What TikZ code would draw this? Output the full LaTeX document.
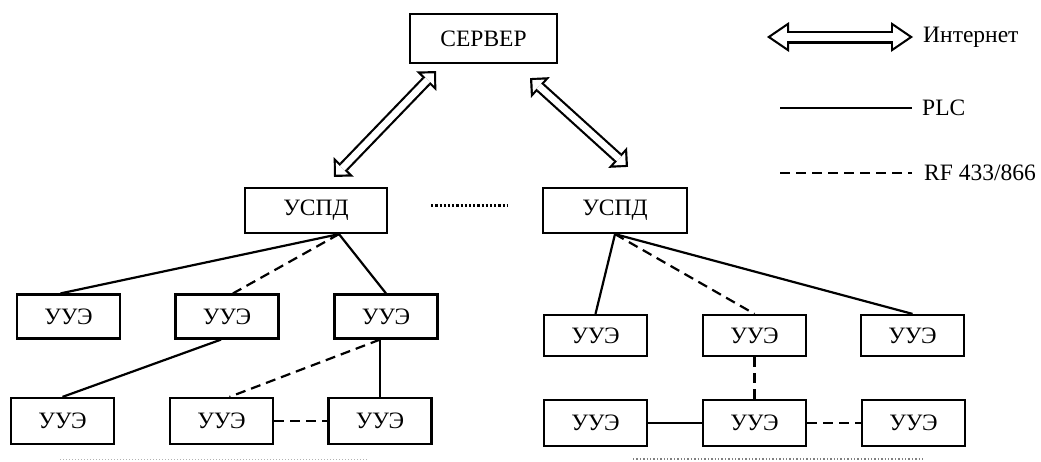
\documentclass[tikz,border=0pt]{standalone}
\usepackage{fontspec}
\setmainfont{Liberation Serif}
\usepackage{tikz}
\usetikzlibrary{arrows.meta}

\tikzset{
    box/.style={draw, line width=2.2pt, minimum width=103pt, minimum height=44pt, inner sep=0pt},
    plc/.style={line width=2.2pt},
    rf/.style={line width=2.2pt, dash pattern=on 10pt off 6pt},
    inet/.style={line width=11pt,
        {Triangle[length=14pt,width=28pt,line width=0pt]}-{Triangle[length=14pt,width=28pt,line width=0pt]},
        postaction={draw, white, line width=6.6pt, shorten <=3.1pt, shorten >=3.1pt,
            {Triangle[length=8.7pt,width=17.4pt,line width=0pt]}-{Triangle[length=8.7pt,width=17.4pt,line width=0pt]}}},
    inetlg/.style={line width=13pt,
        {Triangle[length=22pt,width=30pt,line width=0pt]}-{Triangle[length=22pt,width=30pt,line width=0pt]},
        postaction={draw, white, line width=8.6pt, shorten <=3.9pt, shorten >=3.9pt,
            {Triangle[length=15.9pt,width=21.7pt,line width=0pt]}-{Triangle[length=15.9pt,width=21.7pt,line width=0pt]}}},
    lgtext/.style={anchor=west, inner xsep=10pt, inner ysep=0pt},
}

\begin{document}
\begin{tikzpicture}[x=1pt, y=-1pt, font=\fontsize{23.5}{28}\selectfont]
    \useasboundingbox (0,0) rectangle (1041,461);

    \node[box, minimum width=147pt, minimum height=49pt] (server) at (483.5,38.5) {СЕРВЕР};
    \node[box, minimum width=142pt, minimum height=45pt] (uspdL) at (316,210.5) {УСПД};
    \node[box, minimum width=144pt, minimum height=45pt] (uspdR) at (615,210.5) {УСПД};

    \node[box] (uueL1) at (68.5,316.5) {УУЭ};
    \node[box] (uueL2) at (227,316.5) {УУЭ};
    \node[box] (uueL3) at (386,316.5) {УУЭ};
    \node[box, minimum height=46pt] (uueL4) at (62.5,421) {УУЭ};
    \node[box, minimum height=46pt] (uueL5) at (221.5,421) {УУЭ};
    \node[box, minimum height=46pt] (uueL6) at (380,421) {УУЭ};

    \node[box, minimum height=41pt] (uueR1) at (595.5,335.5) {УУЭ};
    \node[box, minimum height=41pt] (uueR2) at (754.5,335.5) {УУЭ};
    \node[box, minimum height=41pt] (uueR3) at (912.5,335.5) {УУЭ};
    \node[box, minimum height=46pt] (uueR4) at (595.5,423) {УУЭ};
    \node[box, minimum height=46pt] (uueR5) at (754.5,423) {УУЭ};
    \node[box, minimum height=46pt] (uueR6) at (913.5,423) {УУЭ};

    \draw[inet] ([xshift=-47.5pt,yshift=-7pt]server.south) -- ([xshift=18pt,yshift=10pt]uspdL.north);
    \draw[inet] ([xshift=46.5pt,yshift=-14pt]server.south) -- ([xshift=13pt,yshift=20pt]uspdR.north);
    \draw[line width=2.2pt, dotted] ([xshift=43pt,yshift=5pt]uspdL.east) -- ([xshift=-35pt,yshift=5pt]uspdR.west);

    \draw[plc] ([xshift=23pt]uspdL.south) -- ([xshift=-8pt]uueL1.north);
    \draw[rf]  ([xshift=23pt]uspdL.south) -- ([xshift=6pt]uueL2.north);
    \draw[plc] ([xshift=23pt]uspdL.south) -- (uueL3.north);
    \draw[plc] ([xshift=-6pt]uueL2.south) -- (uueL4.north);
    \draw[rf]  ([xshift=-6pt]uueL3.south) -- ([xshift=8pt]uueL5.north);
    \draw[plc] ([xshift=-6pt]uueL3.south) -- (uueL6.north);
    \draw[rf]  (uueL5.east) -- (uueL6.west);

    \draw[plc] (uspdR.south) -- (uueR1.north);
    \draw[rf]  (uspdR.south) -- (uueR2.north);
    \draw[plc] (uspdR.south) -- (uueR3.north);
    \draw[rf]  (uueR2.south) -- (uueR5.north);
    \draw[plc] (uueR4.east) -- (uueR5.west);
    \draw[rf]  (uueR5.east) -- (uueR6.west);

    \coordinate (dotL1) at (60,459);
    \coordinate (dotL2) at (367,459);
    \coordinate (dotR1) at (633,459);
    \coordinate (dotR2) at (923,459);
    \draw[gray!60, line width=1pt, dotted] (dotL1) -- (dotL2);
    \draw[gray, line width=1.4pt, dotted] (dotR1) -- (dotR2);

    \node[lgtext] (lgInet) at (913,37) {Интернет};
    \node[lgtext] (lgPlc) at (912,108) {PLC};
    \node[lgtext] (lgRf) at (914,173) {RF 433/866};
    \coordinate (lgInetA) at (767,37);
    \coordinate (lgPlcA) at (780,108);
    \coordinate (lgRfA) at (780,173);
    \draw[inetlg] (lgInetA) -- (lgInet.west);
    \draw[plc] (lgPlcA) -- (lgPlc.west);
    \draw[rf] (lgRfA) -- ([xshift=-2pt]lgRf.west);
\end{tikzpicture}
\end{document}
